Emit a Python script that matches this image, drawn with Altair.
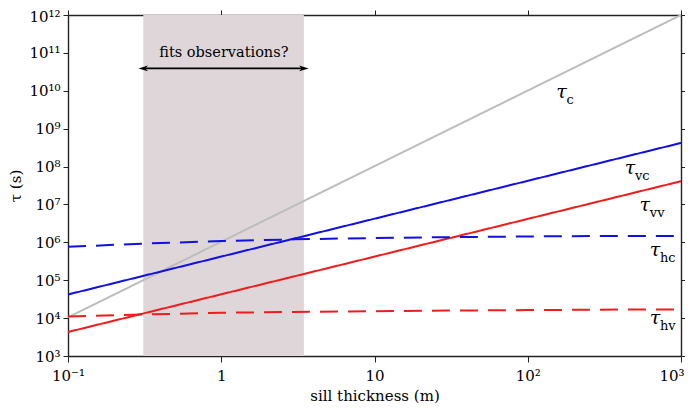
import altair as alt
import pandas as pd

# ---------------- data ----------------
h_line = [0.1, 1000]
tau_c = [1.05e4, 1.0e12]
tau_vc = [4.2e4, 4.2e8]
tau_vv = [4.3e3, 4.1e7]

h_flat = [0.1, 0.3, 1, 3, 10, 30, 100, 300, 1000]
tau_hc = [7.6e5, 9.2e5, 1.08e6, 1.2e6, 1.3e6, 1.37e6, 1.43e6, 1.47e6, 1.48e6]
tau_hv = [1.1e4, 1.24e4, 1.38e4, 1.46e4, 1.52e4, 1.58e4, 1.63e4, 1.67e4, 1.7e4]

series_names = ["c", "vc", "vv", "hc", "hv"]
series_colors = ["#bdbdbd", "#1010e0", "#ee1c1c", "#1010e0", "#ee1c1c"]
series_dash = [[1, 0], [1, 0], [1, 0], [18, 10], [18, 10]]

label_h = [166, 464, 581, 676, 676]
label_tau = [9.1e9, 9.0e7, 9.5e6, 6.2e5, 1.0e4]

region_h = [0.31, 3.46]
arrow_tau = 3.9e10
note_h = 1.04
note_tau = 1.0e11
note_text = "fits observations?"

x_ticks = [0.1, 1, 10, 100, 1000]
x_labels = ["10⁻¹", "1", "10", "10²", "10³"]
y_ticks = [10.0 ** k for k in range(3, 13)]
sup = {"0": "⁰", "1": "¹", "2": "²", "3": "³", "4": "⁴", "5": "⁵",
       "6": "⁶", "7": "⁷", "8": "⁸", "9": "⁹", "-": "⁻"}
y_labels = ["10" + "".join(sup[c] for c in str(k)) for k in range(3, 13)]

FONT = "DejaVu Serif"
W, H = 613, 341

# ---------------- tables ----------------
rows = []
for name, xs, ys in [("c", h_line, tau_c), ("vc", h_line, tau_vc), ("vv", h_line, tau_vv),
                     ("hc", h_flat, tau_hc), ("hv", h_flat, tau_hv)]:
    for x, y in zip(xs, ys):
        rows.append({"series": name, "h": x, "tau": y})
df = pd.DataFrame(rows)

lab_df = pd.DataFrame({"h": label_h, "tau": label_tau, "sub": series_names})
reg_df = pd.DataFrame({"h": [region_h[0]], "h2": [region_h[1]]})
arrow_df = pd.DataFrame({"h": [region_h[0]], "h2": [region_h[1]], "tau": [arrow_tau]})
head_df = pd.DataFrame({"h": region_h, "tau": [arrow_tau, arrow_tau],
                        "side": ["l", "r"]})
note_df = pd.DataFrame({"h": [note_h], "tau": [note_tau], "t": [note_text]})


def expr(vals, labs):
    e = "''"
    for v, l in reversed(list(zip(vals, labs))):
        e = f"abs(datum.value - {v!r}) < {abs(v) * 1e-6!r} ? '{l}' : ({e})"
    return e


xscale = alt.Scale(type="log", domain=[0.1, 1000])
yscale = alt.Scale(type="log", domain=[1e3, 1e12])

xaxis = alt.Axis(values=x_ticks, labelExpr=expr(x_ticks, x_labels), title="sill thickness (m)",
                 grid=False, tickSize=6, labelPadding=6, titlePadding=5, labelFlush=False,
                 labelAlign={"expr": "datum.value == 1000 ? 'right' : 'center'"},
                 labelOffset={"expr": "datum.value == 1000 ? 3 : 0"})
yaxis = alt.Axis(values=y_ticks, labelExpr=expr(y_ticks, y_labels), title="τ (s)",
                 grid=False, tickSize=5, labelPadding=3, titlePadding=5,
                 labelOffset={"expr": "datum.value > 5e11 ? 1 : 0"})

X = alt.X("h:Q", scale=xscale, axis=xaxis)
Y = alt.Y("tau:Q", scale=yscale, axis=yaxis)

region = alt.Chart(reg_df).mark_rect(color="#ded6d8").encode(
    x=X, x2="h2:Q", y=alt.value(0), y2=alt.value(H))

lines = alt.Chart(df).mark_line(strokeWidth=2, clip=True).encode(
    x=X, y=Y,
    color=alt.Color("series:N", scale=alt.Scale(domain=series_names, range=series_colors), legend=None),
    strokeDash=alt.StrokeDash("series:N", scale=alt.Scale(domain=series_names, range=series_dash),
                              legend=None),
    detail="series:N",
)

arrow = alt.Chart(arrow_df).mark_rule(color="black", strokeWidth=1.6).encode(
    x=X, x2="h2:Q", y=Y)
head_l = alt.Chart(head_df).transform_filter("datum.side == 'l'").mark_point(
    shape="M -1 0 L 1 -0.6 L 0.45 0 L 1 0.6 Z", filled=True, color="black", opacity=1, size=90
).encode(x=X, y=Y)
head_r = alt.Chart(head_df).transform_filter("datum.side == 'r'").mark_point(
    shape="M 1 0 L -1 -0.6 L -0.45 0 L -1 0.6 Z", filled=True, color="black", opacity=1, size=90
).encode(x=X, y=Y)

note = alt.Chart(note_df).mark_text(font=FONT, fontSize=14.5, color="black").encode(
    x=X, y=Y, text="t:N")

tau_txt = alt.Chart(lab_df).mark_text(font=FONT, fontSize=19, fontStyle="italic",
                                      align="center", baseline="middle", color="black").encode(
    x=X, y=Y, text=alt.value("τ"))
sub_txt = alt.Chart(lab_df).mark_text(font=FONT, fontSize=13, align="left", baseline="middle",
                                      dx=5, dy=8, color="black").encode(
    x=X, y=Y, text="sub:N")

inner = alt.layer(region, lines, arrow, head_l, head_r, note, tau_txt, sub_txt)

mirror = alt.Chart(df).mark_line(opacity=0).encode(
    x=alt.X("h:Q", scale=xscale, axis=alt.Axis(orient="top", values=x_ticks, labels=False,
                                                 title=None, grid=False, tickSize=5)),
    y=alt.Y("tau:Q", scale=yscale, axis=alt.Axis(orient="right", values=y_ticks, labels=False,
                                                   title=None, grid=False, tickSize=5)),
    detail="series:N",
)

chart = alt.layer(inner, mirror).resolve_scale(x="independent", y="independent").properties(
    width=W, height=H,
    autosize=alt.AutoSizeParams(type="none"),
    padding={"left": 60, "top": 7, "right": 4, "bottom": 50},
).configure_view(stroke=None).configure_axis(
    labelFont=FONT, titleFont=FONT, labelFontSize=15, titleFontSize=15,
    labelColor="black", titleColor="black", titleFontWeight="normal",
    domainColor="#222222", domainWidth=1.4, tickColor="#222222", tickWidth=1,
)

chart.save("out.html", embed_options={"renderer": "svg", "actions": False})
